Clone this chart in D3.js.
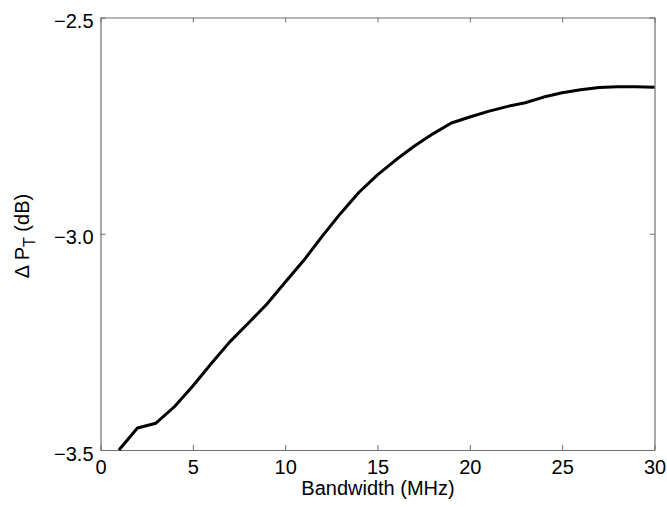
<!DOCTYPE html>
<html><head><meta charset="utf-8">
<script src="https://cdn.jsdelivr.net/npm/d3@7"></script>
<style>body{margin:0;background:#fff}svg{display:block}text{font-family:"Liberation Sans",Arial,sans-serif}</style>
</head><body>
<svg id="c" width="667" height="508"></svg>
<script>
const bandwidth = [1,2,3,4,5,6,7,8,9,10,11,12,13,14,15,16,17,18,19,20,21,22,23,24,25,26,27,28,29,30];
const deltaPT = [-3.500,-3.449,-3.438,-3.400,-3.352,-3.300,-3.250,-3.207,-3.163,-3.112,-3.062,-3.006,-2.953,-2.904,-2.864,-2.829,-2.797,-2.769,-2.744,-2.730,-2.717,-2.706,-2.697,-2.684,-2.674,-2.667,-2.662,-2.660,-2.660,-2.661];
const xTicks = [0,5,10,15,20,25,30];
const yTicks = [-3.5,-3.0,-2.5];

const svg = d3.select("#c");
const L=100.5, R=654.5, T=17.5, B=450;
const x = d3.scaleLinear().domain([0,30]).range([L,R]);
const y = d3.scaleLinear().domain([-3.5,-2.5]).range([B,T]);
const axisColor = "#6e6e6e";

function styleAxis(g){
  g.attr("font-size",20).attr("font-family",null);
  g.select(".domain").attr("stroke",axisColor).attr("stroke-width",1.2);
  g.selectAll(".tick line").attr("stroke",axisColor);
  g.selectAll("text").attr("fill","#000");
}
svg.append("g").attr("transform",`translate(0,${B})`)
  .call(d3.axisBottom(x).tickValues(xTicks).tickSizeInner(-5).tickSizeOuter(0).tickPadding(10).tickFormat(d3.format("d")))
  .call(styleAxis);
svg.append("g").attr("transform",`translate(0,${T})`)
  .call(d3.axisTop(x).tickValues(xTicks).tickSizeInner(-5).tickSizeOuter(0).tickFormat(""))
  .call(styleAxis);
svg.append("g").attr("transform",`translate(${L},0)`)
  .call(d3.axisLeft(y).tickValues(yTicks).tickSizeInner(-5).tickSizeOuter(0).tickPadding(7).tickFormat(d3.format(".1f")))
  .call(styleAxis)
  .call(g=>g.selectAll(".tick text").attr("dy","0.5em"));
svg.append("g").attr("transform",`translate(${R},0)`)
  .call(d3.axisRight(y).tickValues(yTicks).tickSizeInner(-5).tickSizeOuter(0).tickFormat(""))
  .call(styleAxis);

const line = d3.line().x((d,i)=>x(bandwidth[i])).y(d=>y(d));
svg.append("path").datum(deltaPT).attr("d",line).attr("fill","none").attr("stroke","#000").attr("stroke-width",3).attr("stroke-linejoin","round");

svg.append("text").attr("x",378).attr("y",495).attr("text-anchor","middle").style("font-size","20px").text("Bandwidth (MHz)");
const yl = svg.append("text").attr("transform","translate(29,236) rotate(-90)").attr("text-anchor","middle").style("font-size","20px");
yl.append("tspan").text("\u0394 P");
yl.append("tspan").attr("dy",6).style("font-size","16px").text("T");
yl.append("tspan").attr("dy",-6).text(" (dB)");
</script>
</body></html>
